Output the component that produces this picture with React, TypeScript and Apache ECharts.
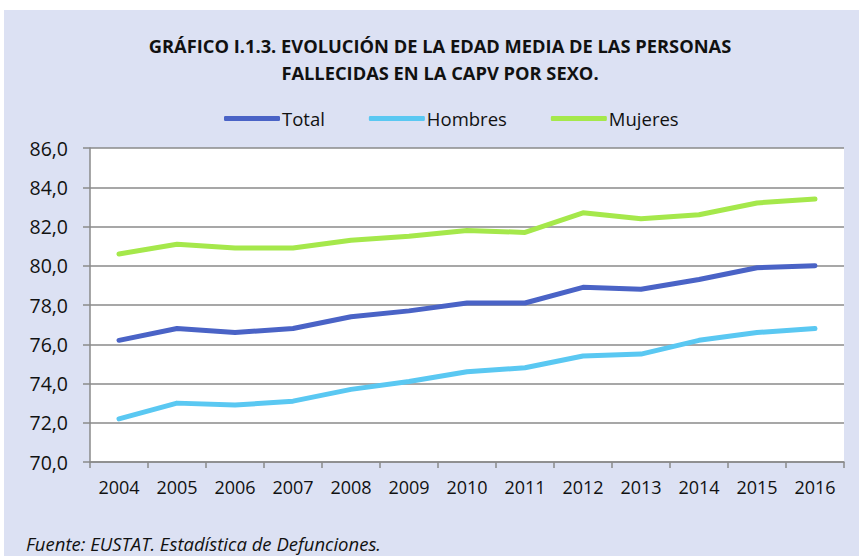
import React, { useEffect, useRef } from "react";
import * as echarts from "echarts";

const years = ["2004","2005","2006","2007","2008","2009","2010","2011","2012","2013","2014","2015","2016"];
const total = [76.2, 76.8, 76.6, 76.8, 77.4, 77.7, 78.1, 78.1, 78.9, 78.8, 79.3, 79.9, 80.0];
const hombres = [72.2, 73.0, 72.9, 73.1, 73.7, 74.1, 74.6, 74.8, 75.4, 75.5, 76.2, 76.6, 76.8];
const mujeres = [80.6, 81.1, 80.9, 80.9, 81.3, 81.5, 81.8, 81.7, 82.7, 82.4, 82.6, 83.2, 83.4];
const seriesNames = ["Total", "Hombres", "Mujeres"];
const colors = ["#4a63c6", "#5ac8f2", "#a5e84b"];
const titleLines = ["GRÁFICO I.1.3. EVOLUCIÓN DE LA EDAD MEDIA DE LAS PERSONAS", "FALLECIDAS EN LA CAPV POR SEXO."];
const sourceText = "Fuente: EUSTAT. Estadística de Defunciones.";

const FONT = "'Open Sans', sans-serif";

export default function App() {
  const ref = useRef<HTMLDivElement>(null);
  useEffect(() => {
    if (!ref.current) return;
    const chart = echarts.init(ref.current, undefined, { renderer: "svg" });
    const data = [total, hombres, mujeres];
    chart.setOption({
      animation: false,
      backgroundColor: "#ffffff",
      graphic: [
        { type: "rect", z: -10, silent: true, shape: { x: 4, y: 10, width: 855, height: 546 }, style: { fill: "#dce1f3" } },
        ...titleLines.map((t, i) => ({
          type: "text", x: 440, y: 45 + i * 27,
          style: { text: t, font: `bold 18.3px ${FONT}`, fill: "#111", align: "center", verticalAlign: "middle" },
        })),
        {
          type: "text", x: 26, y: 543,
          style: { text: sourceText, font: `italic 18.5px ${FONT}`, fill: "#111", verticalAlign: "middle" },
        },
      ],
      legend: {
        left: 219, top: 104, itemWidth: 56, itemHeight: 5, itemGap: 44,
        icon: "roundRect",
        data: seriesNames,
        textStyle: { fontFamily: FONT, fontSize: 18.5, color: "#111", padding: [0, 0, 0, -3] },
      },
      grid: { left: 90, top: 148, right: 15, bottom: 94, backgroundColor: "#ffffff", show: true, borderWidth: 0 },
      xAxis: {
        type: "category", data: years, boundaryGap: true,
        axisLine: { lineStyle: { color: "#8a8a8a", width: 1.5 } },
        axisTick: { show: true, length: 6, lineStyle: { color: "#8a8a8a", width: 1.5 } },
        axisLabel: { fontFamily: FONT, fontSize: 18, color: "#111", margin: 16 },
      },
      yAxis: {
        type: "value", min: 70, max: 86, interval: 2,
        axisLine: { show: true, lineStyle: { color: "#8a8a8a", width: 1.5 } },
        axisTick: { show: true, length: 7, lineStyle: { color: "#8a8a8a", width: 1.5 } },
        splitLine: { lineStyle: { color: "#8a8a8a", width: 1.5 } },
        axisLabel: {
          fontFamily: FONT, fontSize: 19.5, color: "#111", margin: 22,
          formatter: (v: number) => v.toFixed(1).replace(".", ","),
        },
      },
      series: seriesNames.map((n, i) => ({
        name: n, type: "line", data: data[i], symbol: "none",
        itemStyle: { color: colors[i] },
        lineStyle: { color: colors[i], width: 5, cap: "round", join: "round" },
      })),
    });
    return () => chart.dispose();
  }, []);
  return (
    <div style={{ position: "fixed", left: 0, top: 0, width: 859, height: 556 }}>
      <div ref={ref} style={{ width: 859, height: 556 }} />
    </div>
  );
}
